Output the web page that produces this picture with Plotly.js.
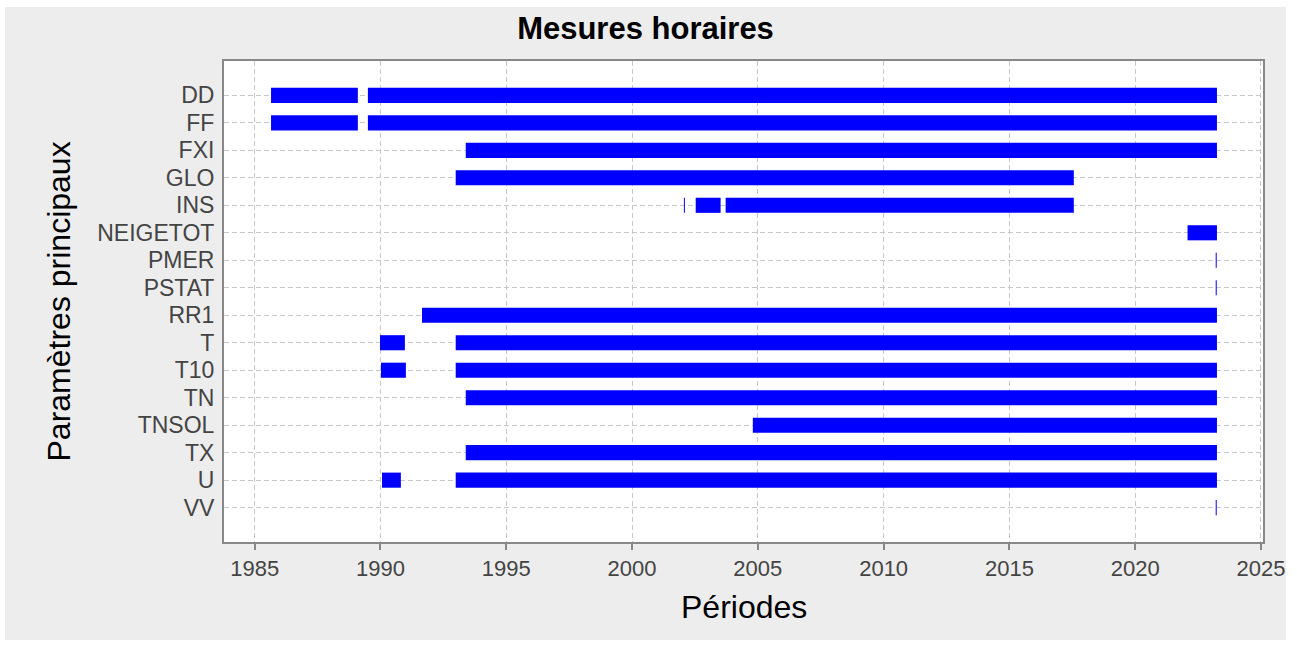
<!DOCTYPE html>
<html>
<head>
<meta charset="utf-8">
<script src="https://cdn.plot.ly/plotly-3.0.1.min.js"></script>
<style>
  html, body { margin: 0; padding: 0; background: #ffffff; }
  #chart { position: absolute; left: 5px; top: 7px; width: 1281px; height: 633px; }
</style>
</head>
<body>
<div id="chart"></div>
<script>
// Categories (top to bottom)
const params = ["DD","FF","FXI","GLO","INS","NEIGETOT","PMER","PSTAT","RR1","T","T10","TN","TNSOL","TX","U","VV"];

// Measurement periods (fractional years), one entry per segment
const segParam = ["DD","DD","FF","FF","FXI","GLO","INS","INS","INS","NEIGETOT","PMER","PSTAT","RR1","T","T","T10","T10","TN","TNSOL","TX","U","U","VV"];
const segStart = [1985.65,1989.5,1985.65,1989.5,1993.39,1992.99,2002.06,2002.53,2003.72,2022.08,2023.2,2023.2,1991.65,1989.98,1992.99,1990.02,1992.99,1993.39,2004.8,1993.39,1990.06,1992.99,2023.2];
const segEnd   = [1989.1,2023.25,1989.1,2023.25,2023.25,2017.56,2002.1,2003.52,2017.56,2023.25,2023.24,2023.24,2023.25,1990.97,2023.25,1991.01,2023.25,2023.25,2023.25,2023.25,1990.81,2023.25,2023.24];

const xTicks = [1985,1990,1995,2000,2005,2010,2015,2020,2025];

const trace = {
  type: "bar",
  orientation: "h",
  y: segParam,
  base: segStart,
  x: segEnd.map((e, i) => e - segStart[i]),
  width: 0.55,
  marker: { color: "#0000ff", line: { width: 0 } },
  hoverinfo: "skip",
  showlegend: false
};

const FAM = "Liberation Sans, Arial, sans-serif";
const xTickFont = { family: FAM, size: 22, color: "#444444" };
const yTickFont = { family: FAM, size: 23, color: "#444444" };

const layout = {
  width: 1281,
  height: 633,
  paper_bgcolor: "#ededed",
  plot_bgcolor: "#ffffff",
  margin: { l: 219, r: 23, t: 54, b: 98 },
  barmode: "overlay",
  title: {
    text: "<b>Mesures horaires</b>",
    font: { family: FAM, size: 31, color: "#000000" },
    x: 0.5, xref: "container", xanchor: "center",
    y: 1 - 21 / 633, yref: "container", yanchor: "middle"
  },
  xaxis: {
    range: [1983.78, 2025.08],
    tickvals: xTicks,
    ticktext: xTicks.map(String),
    tickfont: xTickFont,
    ticks: "outside", ticklen: 6, tickwidth: 2, tickcolor: "#888888",
    showgrid: true, gridcolor: "#c8c8c8", griddash: "5px,3px", gridwidth: 1,
    zeroline: false,
    showline: true, linecolor: "#888888", linewidth: 2, mirror: true
  },
  yaxis: {
    type: "category",
    categoryorder: "array",
    categoryarray: params,
    tickmode: "array",
    tickvals: params,
    ticktext: params,
    range: [params.length - 1 + 1.25, -1.25],
    tickfont: yTickFont,
    ticks: "",
    ticklabelstandoff: 3,
    showgrid: true, gridcolor: "#c8c8c8", griddash: "5px,3px", gridwidth: 1,
    zeroline: false,
    showline: true, linecolor: "#888888", linewidth: 2, mirror: true
  },
  annotations: [
    {
      text: "Périodes", showarrow: false,
      xref: "paper", yref: "paper", x: 0.5, y: -65 / 481,
      xanchor: "center", yanchor: "middle",
      font: { family: FAM, size: 32, color: "#000000" }
    },
    {
      text: "Paramètres principaux", showarrow: false, textangle: -90,
      xref: "paper", yref: "paper", x: -166 / 1039, y: 0.5,
      xanchor: "center", yanchor: "middle",
      font: { family: FAM, size: 32, color: "#000000" }
    }
  ]
};

Plotly.newPlot("chart", [trace], layout, { displayModeBar: false, staticPlot: true });
</script>
</body>
</html>
